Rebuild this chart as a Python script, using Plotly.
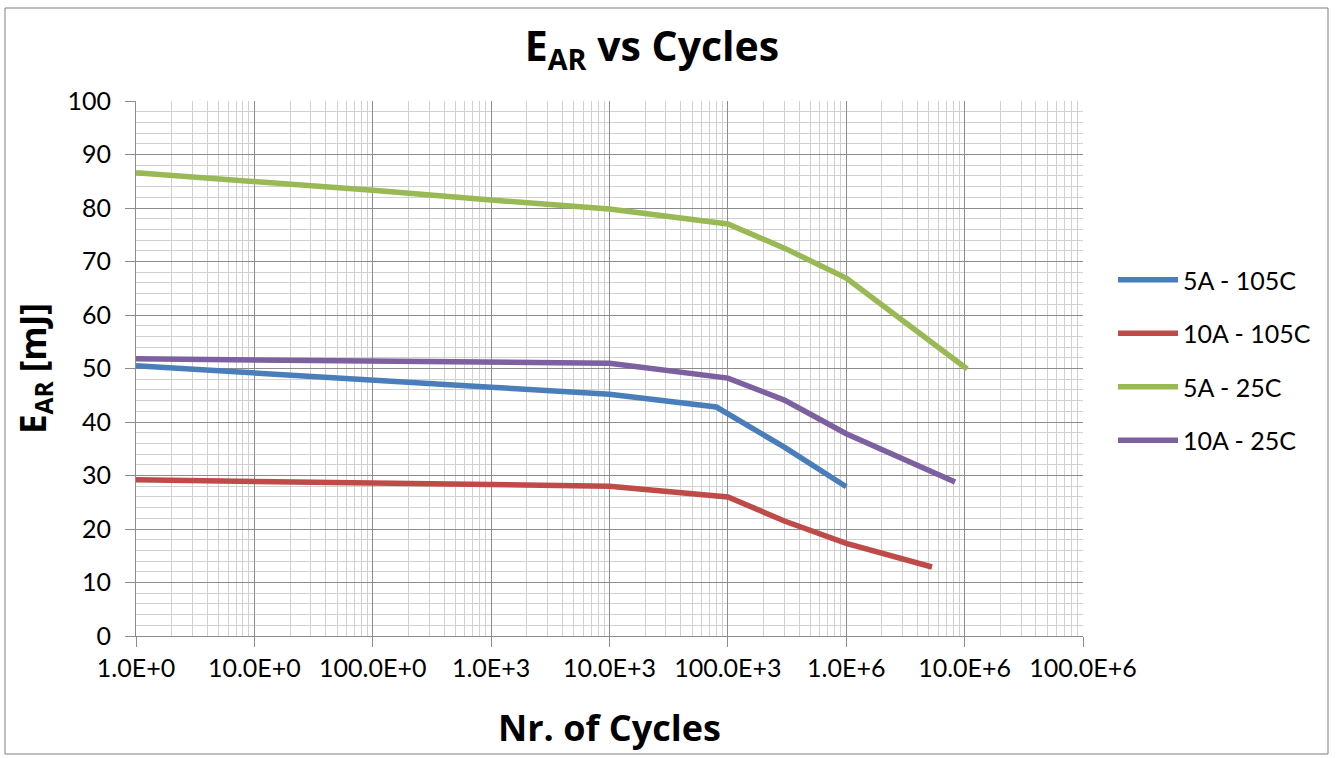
import plotly.graph_objects as go

# Data
cycles_5A_105C = [1, 10, 100, 1e3, 1e4, 8e4, 3e5, 1e6]
ear_5A_105C = [50.5, 49.1, 47.8, 46.5, 45.2, 42.8, 35.3, 27.9]

cycles_10A_105C = [1, 10, 100, 1e3, 1e4, 1e5, 3e5, 1e6, 5.3e6]
ear_10A_105C = [29.2, 28.9, 28.6, 28.3, 28.0, 26.0, 21.5, 17.3, 12.9]

cycles_5A_25C = [1, 10, 100, 1e3, 1e4, 1e5, 3e5, 1e6, 1.05e7]
ear_5A_25C = [86.6, 85.0, 83.3, 81.5, 79.8, 77.0, 72.5, 66.9, 49.9]

cycles_10A_25C = [1, 10, 100, 1e3, 1e4, 1e5, 3e5, 1e6, 8.3e6]
ear_10A_25C = [51.8, 51.6, 51.4, 51.2, 51.0, 48.2, 44.1, 37.8, 28.8]

series_names = ["5A - 105C", "10A - 105C", "5A - 25C", "10A - 25C"]
series_colors = ["#4A7EBB", "#BE4B48", "#98B954", "#7D60A0"]

x_tickvals = [1, 10, 100, 1e3, 1e4, 1e5, 1e6, 1e7, 1e8]
x_ticktext = ["1.0E+0", "10.0E+0", "100.0E+0", "1.0E+3", "10.0E+3",
              "100.0E+3", "1.0E+6", "10.0E+6", "100.0E+6"]

FONT = "Lato"
TFONT = "Open Sans"

fig = go.Figure()
all_x = [cycles_5A_105C, cycles_10A_105C, cycles_5A_25C, cycles_10A_25C]
all_y = [ear_5A_105C, ear_10A_105C, ear_5A_25C, ear_10A_25C]
for i, (xs, ys) in enumerate(zip(all_x, all_y)):
    fig.add_trace(go.Scatter(
        x=xs, y=ys, mode="lines", name=series_names[i],
        legendgroup=series_names[i],
        line=dict(color=series_colors[i], width=5.5),
    ))

W, H = 1336, 758
L, R, T, B = 136, 1083, 101, 636
pw, ph = R - L, B - T

def px(xp):
    return (xp - L) / pw

def py(yp):
    return (B - yp) / ph

fig.update_layout(
    width=W, height=H,
    margin=dict(l=L, r=W - R, t=T, b=H - B),
    paper_bgcolor="white", plot_bgcolor="white",
    font=dict(family=FONT, color="#000000", size=25),
    showlegend=True,
    legend=dict(
        x=px(1113), y=py(257), xanchor="left", yanchor="top",
        font=dict(size=25, family=FONT), tracegroupgap=18,
        itemwidth=60,
        bgcolor="rgba(0,0,0,0)",
    ),
    title=dict(
        text="<b>E<sub>AR</sub> vs Cycles</b>",
        x=px(652), xref="paper", xanchor="center",
        y=1 - 47 / H, yref="container", yanchor="middle",
        font=dict(size=41, family=TFONT),
    ),
    xaxis=dict(
        type="log", range=[0, 8],
        tickvals=x_tickvals, ticktext=x_ticktext,
        showgrid=True, gridcolor="#8C8C8C", gridwidth=1,
        ticks="outside", ticklen=10, tickcolor="#8C8C8C",
        showline=True, linecolor="#8C8C8C", linewidth=1,
        tickfont=dict(size=25, family=FONT),
        minor=dict(dtick="D1", showgrid=True, gridcolor="#D0D0D0", gridwidth=1),
        zeroline=False,
    ),
    yaxis=dict(
        range=[0, 100], dtick=10, tick0=0,
        showgrid=True, gridcolor="#8C8C8C", gridwidth=1,
        ticks="outside", ticklen=10, tickcolor="#8C8C8C",
        ticklabelstandoff=9,
        showline=True, linecolor="#8C8C8C", linewidth=1,
        tickfont=dict(size=25, family=FONT),
        minor=dict(dtick=2, showgrid=True, gridcolor="#D0D0D0", gridwidth=1),
        zeroline=False,
    ),
    annotations=[
        dict(text="<b>Nr. of Cycles</b>", xref="paper", yref="paper",
             x=px(609), y=py(727), xanchor="center", yanchor="middle",
             showarrow=False, font=dict(size=36, family=TFONT)),
        dict(text="<b>E<sub>AR</sub> [mJ]</b>", xref="paper", yref="paper",
             x=px(34), y=py(369), xanchor="center", yanchor="middle",
             textangle=-90, showarrow=False, font=dict(size=35, family=TFONT)),
    ],
    shapes=[
        dict(type="rect", xref="paper", yref="paper",
             x0=px(5), x1=px(1328), y0=py(754), y1=py(8),
             line=dict(color="#7F7F7F", width=1), layer="below"),
    ],
)

fig.write_html("out.html", config={"displayModeBar": False},
               post_script="document.body.style.margin='0';document.body.style.overflow='hidden';")
